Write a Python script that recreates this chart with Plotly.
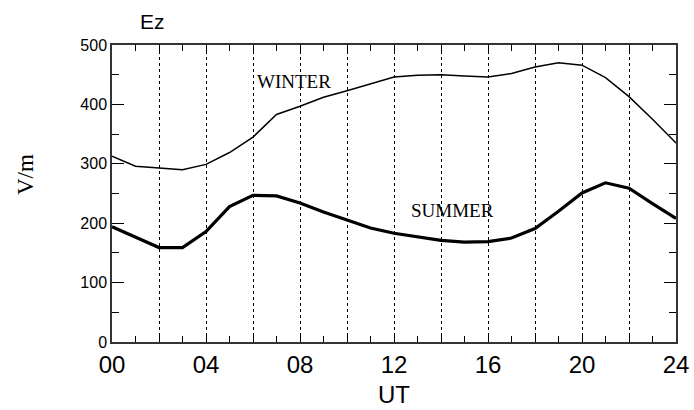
import plotly.graph_objects as go

hours = list(range(0, 25))
winter = [313, 296, 293, 290, 299, 319, 345, 383, 397, 412, 423, 435, 446,
          449, 450, 448, 446, 452, 463, 470, 466, 445, 413, 375, 335]
summer = [194, 176, 159, 159, 186, 228, 247, 246, 234, 219, 205, 192, 183,
          177, 171, 168, 169, 175, 191, 220, 251, 268, 259, 233, 208]
x_tickvals = [0, 2, 4, 6, 8, 10, 12, 14, 16, 18, 20, 22, 24]
x_ticktext = ["00", "", "04", "", "08", "", "12", "", "16", "", "20", "", "24"]
y_tickvals = [0, 100, 200, 300, 400, 500]

W, H = 694, 410
ML, MR, MT, MB = 112, 18, 45, 68

fig = go.Figure()
fig.add_trace(go.Scatter(x=hours, y=winter, mode="lines",
                         line=dict(color="black", width=1.5), showlegend=False))
fig.add_trace(go.Scatter(x=hours, y=summer, mode="lines",
                         line=dict(color="black", width=3.2), showlegend=False))

fig.add_annotation(x=7.75, y=438, text="WINTER", showarrow=False,
                   font=dict(family="Liberation Serif", size=19, color="black"))
fig.add_annotation(x=14.5, y=222, text="SUMMER", showarrow=False,
                   font=dict(family="Liberation Serif", size=19, color="black"))
fig.add_annotation(x=(25 - ML) / (W - ML - MR), xref="paper",
                   y=(H - MB - 175) / (H - MT - MB), yref="paper",
                   text="V/m", textangle=-90, showarrow=False,
                   xanchor="center", yanchor="middle",
                   font=dict(family="Liberation Serif", size=23, color="black"))

fig.update_layout(
    width=W, height=H,
    margin=dict(l=ML, r=MR, t=MT, b=MB, autoexpand=False),
    paper_bgcolor="white", plot_bgcolor="white",
    title=dict(text="Ez", x=140 / W, xref="container", xanchor="left",
               y=1 - 22 / H, yref="container", yanchor="middle",
               font=dict(family="Liberation Sans", size=21, color="black")),
    font=dict(family="Liberation Sans", color="black"),
)

fig.update_xaxes(
    range=[0, 24], tickvals=x_tickvals, ticktext=x_ticktext, automargin=False,
    ticks="inside", ticklen=6, tickcolor="black", tickwidth=1,
    showline=True, linecolor="#333", linewidth=1.5, mirror="ticks",
    showgrid=True, gridcolor="black", gridwidth=1, griddash="3px,3px",
    zeroline=False,
    minor=dict(dtick=1, ticks="inside", ticklen=6, tickcolor="black", showgrid=False),
    tickfont=dict(family="Liberation Sans", size=24, color="black"),
    title=dict(text="UT", font=dict(family="Liberation Sans", size=24, color="black"), standoff=10),
)
fig.update_yaxes(
    range=[0, 500], tickvals=y_tickvals, automargin=False,
    ticks="inside", ticklen=12, tickcolor="black", tickwidth=1,
    showline=True, linecolor="#333", linewidth=1.5, mirror="ticks",
    showgrid=False, zeroline=False,
    minor=dict(dtick=50, ticks="inside", ticklen=7, tickcolor="black", showgrid=False),
    tickfont=dict(family="Liberation Sans", size=16, color="black"),
)

fig.write_html("out.html", config={"displayModeBar": False},
               post_script="document.body.style.margin='0px';document.body.style.overflow='hidden';")
